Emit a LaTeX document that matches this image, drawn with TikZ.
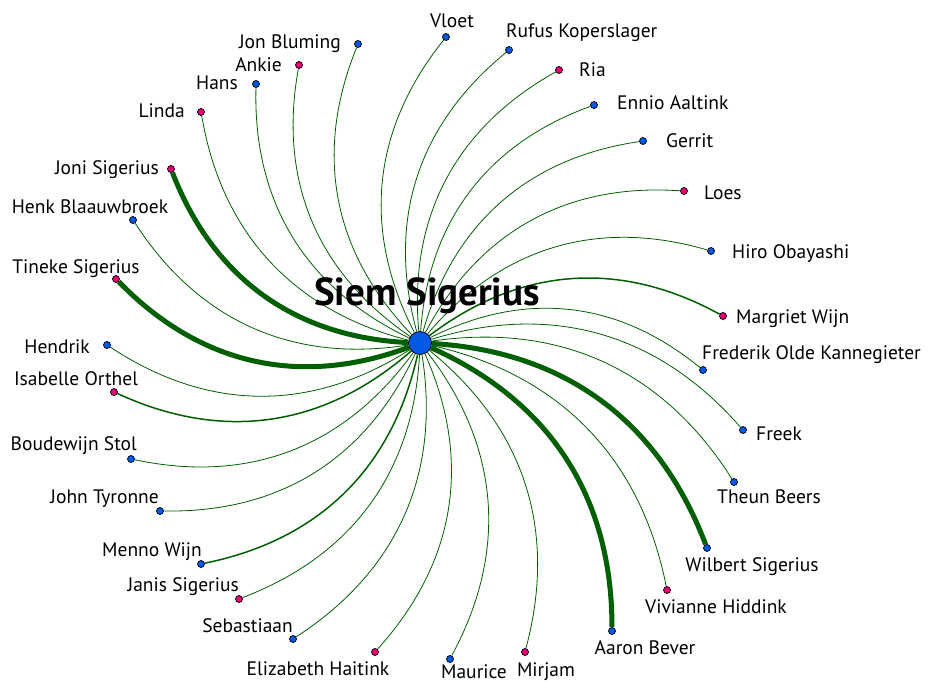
\documentclass[tikz,border=0pt]{standalone}
\usepackage{fontspec}
\setmainfont{PT Sans}
\usepackage{tikz}
\usetikzlibrary{backgrounds}
\definecolor{manblue}{RGB}{0,88,228}
\definecolor{womanpink}{RGB}{228,0,118}
\definecolor{tiegreen}{RGB}{0,95,0}
\tikzset{
person/.style={circle, draw=black, line width=0.7pt, inner sep=0pt, minimum size=7pt},
man/.style={person, fill=manblue},
woman/.style={person, fill=womanpink},
who/.style={inner sep=0pt, font=\fontsize{19.5}{21}\selectfont},
tie/.style={draw=tiegreen, line width=0.8pt},
midtie/.style={draw=tiegreen, line width=1.5pt},
strongtie/.style={draw=tiegreen, line width=5pt}
}

\begin{document}
\begin{tikzpicture}[x=1pt, y=-1pt]
\useasboundingbox (0,0) rectangle (932,682);
\node[circle, draw=black, line width=0.8pt, fill=manblue, minimum size=23pt, inner sep=0pt] (siem) at (420,343) {};
% the people round Siem
\foreach \n/\x/\y/\s in {vloet/446/37/man, rufus/509/50/man, ria/559/70/woman, ennio/594/105/man,
gerrit/643/141/man, loes/684/191/woman, hiro/711/251/man, margriet/723/316/woman,
frederik/703/370/man, freek/743/430/man, theun/734/482/man, wilbert/707/548/man,
vivianne/667/590/woman, aaron/612/631/man, mirjam/525/652/woman, maurice/450/659/man,
elizabeth/375/652/woman, sebastiaan/293/639/man, janis/239/599/woman, menno/201/564/man,
john/160/511/man, boudewijn/131/459/man, isabelle/114/392/woman, hendrik/107/345/man,
tineke/116/279/woman, henk/133/220/man, joni/171/169/woman, linda/201/112/woman,
hans/256/84/man, ankie/299/65/woman, jon/358/44/man}{
\node[\s] (\n) at (\x,\y) {};
}
% names
\foreach \n/\dx/\dy/\a/\t in {vloet/6/-9/base/Vloet, rufus/-3/-12/base west/Rufus Koperslager,
ria/20/7/base west/Ria, ennio/23/5/base west/Ennio Aaltink, gerrit/23/7/base west/Gerrit,
loes/20/8/base west/Loes, hiro/21/7/base west/Hiro Obayashi, margriet/13/7/base west/Margriet Wijn,
frederik/-1/-11/base west/Frederik Olde Kannegieter, freek/13/10/base west/Freek,
theun/35/21/base/Theun Beers, wilbert/45/23/base/Wilbert Sigerius, vivianne/49/23/base/Vivianne Hiddink,
aaron/33/23/base/Aaron Bever, mirjam/21/24/base/Mirjam, maurice/24/19/base/Maurice,
elizabeth/-57/23/base/Elizabeth Haitink, sebastiaan/0/-7/base east/Sebastiaan,
janis/0/-8/base east/Janis Sigerius, menno/1/-8/base east/Menno Wijn, john/-1/-8/base east/John Tyronne,
boudewijn/6/-9/base east/Boudewijn Stol, isabelle/-38/-7/base/Isabelle Orthel,
hendrik/-17/8/base east/Hendrik, tineke/-40/-6/base/Tineke Sigerius, henk/-43/-7/base/Henk Blaauwbroek,
joni/-12/6/base east/Joni Sigerius, linda/-16/6/base east/Linda, hans/-18/6/base east/Hans,
ankie/-17/7/base east/Ankie, jon/-17/5/base east/Jon Bluming}{
\node[who, anchor=\a] (\n-name) at ([shift={(\dx,\dy)}]\n.center) {\t};
}
\begin{scope}[on background layer]
\foreach \n/\w in {vloet/tie, rufus/tie, ria/tie, ennio/tie, gerrit/tie, loes/tie, hiro/tie,
margriet/midtie, frederik/tie, freek/tie, theun/tie, wilbert/strongtie, vivianne/tie,
aaron/strongtie, mirjam/tie, maurice/tie, elizabeth/tie, sebastiaan/tie, janis/tie,
menno/midtie, john/tie, boudewijn/tie, isabelle/midtie, hendrik/tie, tineke/strongtie,
henk/tie, joni/strongtie, linda/tie, hans/tie, ankie/tie, jon/tie}{
\draw[\w] (siem) to[bend left=33] (\n);
}
\end{scope}
\node[font=\fontsize{39}{41}\selectfont\bfseries, inner sep=0pt, anchor=base] (siem-name) at ([shift={(7,-38)}]siem.center) {Siem Sigerius};
\end{tikzpicture}
\end{document}
